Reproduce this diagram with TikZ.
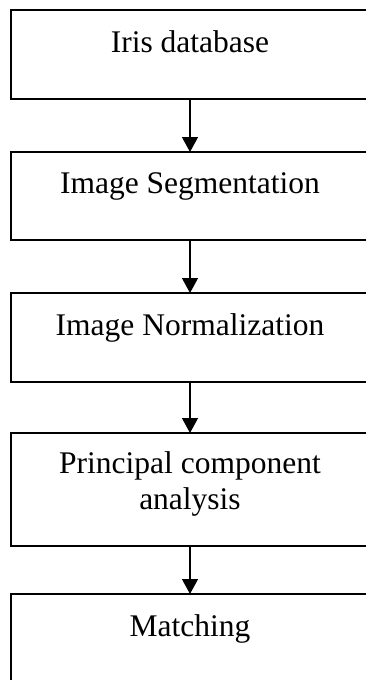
\documentclass[tikz,border=0pt]{standalone}
\usepackage{fontspec}
\setmainfont{Liberation Serif}
\usetikzlibrary{positioning,arrows.meta}

\tikzset{
    stage/.style={draw, line width=1.6pt, minimum width=358pt, inner sep=0pt, outer sep=0pt},
    caption/.style={inner sep=0pt, align=center, font=\fontsize{31.5}{36}\selectfont},
    flow/.style={line width=1.3pt, -{Triangle[length=15pt,width=16pt]}}
}

\begin{document}
\begin{tikzpicture}
                    \useasboundingbox (0,0) rectangle (365pt,-680pt);

                    \node[stage, minimum height=89pt] (iris) at (190pt,-54.5pt) {};
                    \node[stage, minimum height=88pt, below=53pt of iris] (seg) {};
                    \node[stage, minimum height=89pt, below=53pt of seg] (norm) {};
                    \node[stage, minimum height=113pt, below=51pt of norm] (pca) {};
                    \node[stage, minimum height=89pt, below=48pt of pca] (match) {};

                    \node[caption, below=20pt of iris.north] {Iris database};
                    \node[caption, below=20pt of seg.north] {Image Segmentation};
                    \node[caption, below=20pt of norm.north] {Image Normalization};
                    \node[caption, below=18pt of pca.north] {Principal component\\analysis};
                    \node[caption, below=20pt of match.north] {Matching};

                    \draw[flow] (iris) -- (seg);
                    \draw[flow] (seg) -- (norm);
                    \draw[flow] (norm) -- (pca);
                    \draw[flow] (pca) -- (match);

                \end{tikzpicture}
\end{document}
